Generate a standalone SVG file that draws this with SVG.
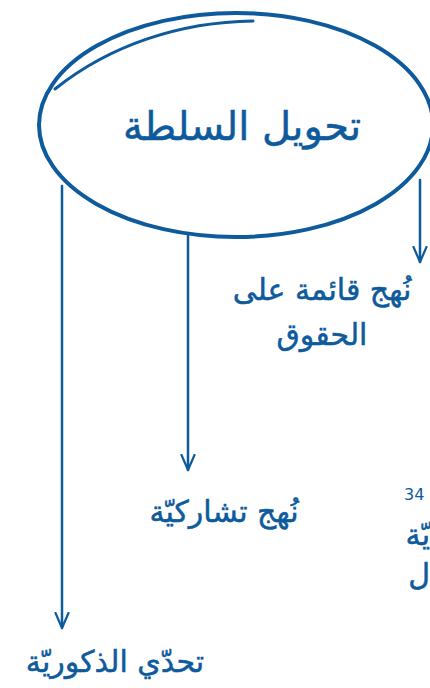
<svg xmlns="http://www.w3.org/2000/svg" width="430" height="688" viewBox="0 0 430 688">
<style>
.t{font-family:"DejaVu Sans","Noto Sans",sans-serif;fill:#0d5a9c;stroke:#0d5a9c;stroke-width:0.5;text-anchor:middle;direction:rtl}
.c{fill:none;stroke:#0d5a9c;stroke-width:2.5;stroke-linecap:round}
</style>
<defs>
<marker id="a" markerWidth="18" markerHeight="16" refX="16" refY="8" orient="auto" markerUnits="userSpaceOnUse" viewBox="0 0 18 16">
<path d="M1 1.5 L16 8 L1 14.5" fill="none" stroke="#0d5a9c" stroke-width="2.2" stroke-linecap="round" stroke-linejoin="round"/>
</marker>
</defs>
<rect width="430" height="688" fill="#fff"/>
<g id="connectors">
<path class="c" d="M62 186 L62 628" marker-end="url(#a)"/>
<path class="c" d="M188 236 L188 470" marker-end="url(#a)"/>
<path class="c" d="M420 180 L420 262" marker-end="url(#a)"/>
</g>
<g id="root">
<ellipse cx="236" cy="125" rx="197" ry="112" fill="#fff" stroke="#0d5a9c" stroke-width="4"/>
<path d="M55 89 C110 45 180 22 253 21" fill="none" stroke="#0d5a9c" stroke-width="3" stroke-linecap="round"/>
<text class="t" x="242" y="140" font-size="40">تحويل السلطة</text>
</g>
<g id="n1">
<text class="t" x="322" y="300" font-size="30">نُهج قائمة على</text>
<text class="t" x="322" y="345" font-size="30">الحقوق</text>
</g>
<g id="n2">
<text class="t" x="224" y="522" font-size="30">نُهج تشاركيّة</text>
</g>
<g id="n3">
<text class="t" x="115" y="672" font-size="30">تحدّي الذكوريّة</text>
</g>
<g id="n4">
<text x="404" y="500" font-family="DejaVu Sans, sans-serif" font-size="16" fill="#0d5a9c">34</text>
<text class="t" x="430" y="545" font-size="30" style="text-anchor:start">يّة</text>
<text class="t" x="430" y="585" font-size="30" style="text-anchor:start">ل</text>
</g>
</svg>
